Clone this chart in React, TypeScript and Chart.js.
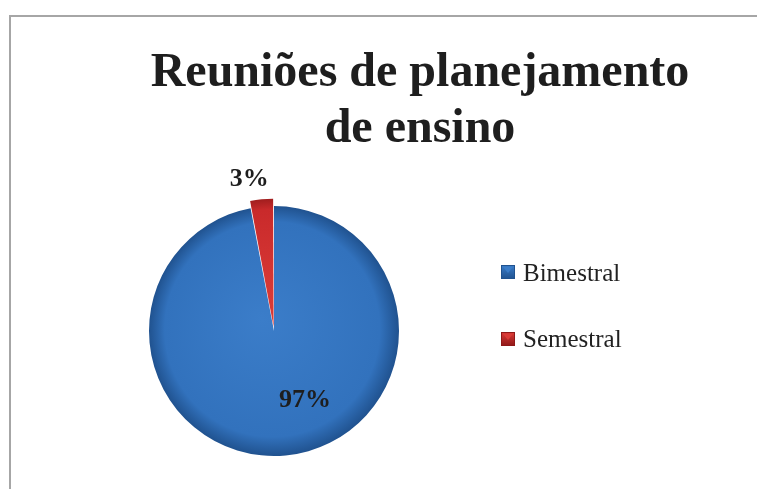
import React, { useEffect, useRef } from 'react';
import { Chart, registerables } from 'chart.js';

Chart.register(...registerables);

// ---- data ----
const titleLines = ['Reuniões de planejamento', 'de ensino'];
const categories = ['Bimestral', 'Semestral'];
const values = [97, 3];

// ---- styles ----
const baseColors = ['#3272bd', '#c92a2b'];
const lightColors = ['#3b7dc9', '#da3b37'];
const darkColors = ['#20528f', '#8f1818'];
// Chart.js translates an exploded arc by offset/2 px
const sliceOffsets = [0, 16];
const labelRadius = [0.61, 1.227];
const labelAngleShift = [-18.6, -3.9];

const W = 757;
const H = 489;

export default function App() {
  const ref = useRef<HTMLCanvasElement>(null);

  useEffect(() => {
    const canvas = ref.current;
    if (!canvas) return;

    const total = values.reduce((s, v) => s + v, 0);
    const maxOffset = Math.max(...sliceOffsets);

    const sliceFill = (c: any) => {
      const chart = c.chart;
      const a = chart.chartArea;
      const i = c.dataIndex;
      if (!a) return baseColors[i];
      let before = 0;
      for (let k = 0; k < i; k++) before += values[k];
      const mid = -Math.PI / 2 + ((before + values[i] / 2) / total) * Math.PI * 2;
      const shift = sliceOffsets[i] / 2;
      const cx = (a.left + a.right) / 2 + Math.cos(mid) * shift;
      const cy = (a.top + a.bottom) / 2 + Math.sin(mid) * shift;
      const r = (Math.min(a.right - a.left, a.bottom - a.top) - maxOffset) / 2;
      const g = chart.ctx.createRadialGradient(cx - r * 0.1, cy - r * 0.1, 0, cx, cy, r);
      g.addColorStop(0, lightColors[i]);
      g.addColorStop(0.86, baseColors[i]);
      g.addColorStop(1, darkColors[i]);
      return g;
    };

    const framePlugin = {
      id: 'frame',
      beforeDraw(chart: any) {
        const ctx = chart.ctx;
        ctx.save();
        ctx.fillStyle = '#ffffff';
        ctx.fillRect(0, 0, W, H);
        ctx.fillStyle = '#a6a6a6';
        ctx.fillRect(9, 15, W - 9, 2);
        ctx.fillRect(9, 15, 2, H - 15);
        ctx.restore();
      },
    };

    const textPlugin = {
      id: 'texts',
      afterDraw(chart: any) {
        const ctx = chart.ctx;
        ctx.save();
        // title
        ctx.fillStyle = '#1e1e1e';
        ctx.font = 'bold 48px "Liberation Serif", "Times New Roman", serif';
        ctx.textAlign = 'center';
        ctx.textBaseline = 'alphabetic';
        titleLines.forEach((t, i) => ctx.fillText(t, 420, 86 + i * 56));

        // percentage labels
        const meta = chart.getDatasetMeta(0);
        ctx.font = 'bold 26px "Liberation Serif", "Times New Roman", serif';
        ctx.textBaseline = 'middle';
        meta.data.forEach((arc: any, i: number) => {
          const p = arc.getProps(['x', 'y', 'startAngle', 'endAngle', 'outerRadius'], true);
          const mid = (p.startAngle + p.endAngle) / 2 + (labelAngleShift[i] * Math.PI) / 180;
          const d = p.outerRadius * labelRadius[i];
          const pct = Math.round((values[i] / total) * 100);
          ctx.fillText(pct + '%', p.x + Math.cos(mid) * d, p.y + Math.sin(mid) * d);
        });

        // legend
        ctx.font = '25px "Liberation Serif", "Times New Roman", serif';
        ctx.textAlign = 'left';
        ctx.textBaseline = 'alphabetic';
        categories.forEach((name, i) => {
          const bx = 501;
          const by = 265 + i * 67;
          const s = 14;
          const g = ctx.createLinearGradient(bx, by, bx, by + s);
          g.addColorStop(0, lightColors[i]);
          g.addColorStop(1, darkColors[i]);
          ctx.fillStyle = g;
          ctx.fillRect(bx, by, s, s);
          ctx.fillStyle = lightColors[i];
          ctx.beginPath();
          ctx.moveTo(bx + 2, by + 2);
          ctx.lineTo(bx + s - 2, by + 2);
          ctx.lineTo(bx + s / 2, by + s / 2 + 1);
          ctx.closePath();
          ctx.fill();
          ctx.strokeStyle = darkColors[i];
          ctx.lineWidth = 1;
          ctx.strokeRect(bx + 0.5, by + 0.5, s - 1, s - 1);
          ctx.fillStyle = '#222222';
          ctx.fillText(name, 523, 281 + i * 66);
        });
        ctx.restore();
      },
    };

    const chart = new Chart(canvas, {
      type: 'pie',
      data: {
        labels: categories,
        datasets: [
          {
            data: values,
            backgroundColor: sliceFill,
            borderWidth: 0,
            offset: sliceOffsets,
            hoverOffset: 0,
          },
        ],
      },
      options: {
        responsive: false,
        animation: false,
        devicePixelRatio: 1,
        layout: { padding: { left: 141, right: 350, top: 198, bottom: 25 } },
        plugins: {
          legend: { display: false },
          title: { display: false },
          tooltip: { enabled: false },
        },
        events: [],
      },
      plugins: [framePlugin, textPlugin],
    });

    return () => chart.destroy();
  }, []);

  return (
    <div style={{ position: 'fixed', left: 0, top: 0, width: W, height: H, background: '#fff' }}>
      <canvas ref={ref} width={W} height={H} style={{ display: 'block', width: W, height: H }} />
    </div>
  );
}
